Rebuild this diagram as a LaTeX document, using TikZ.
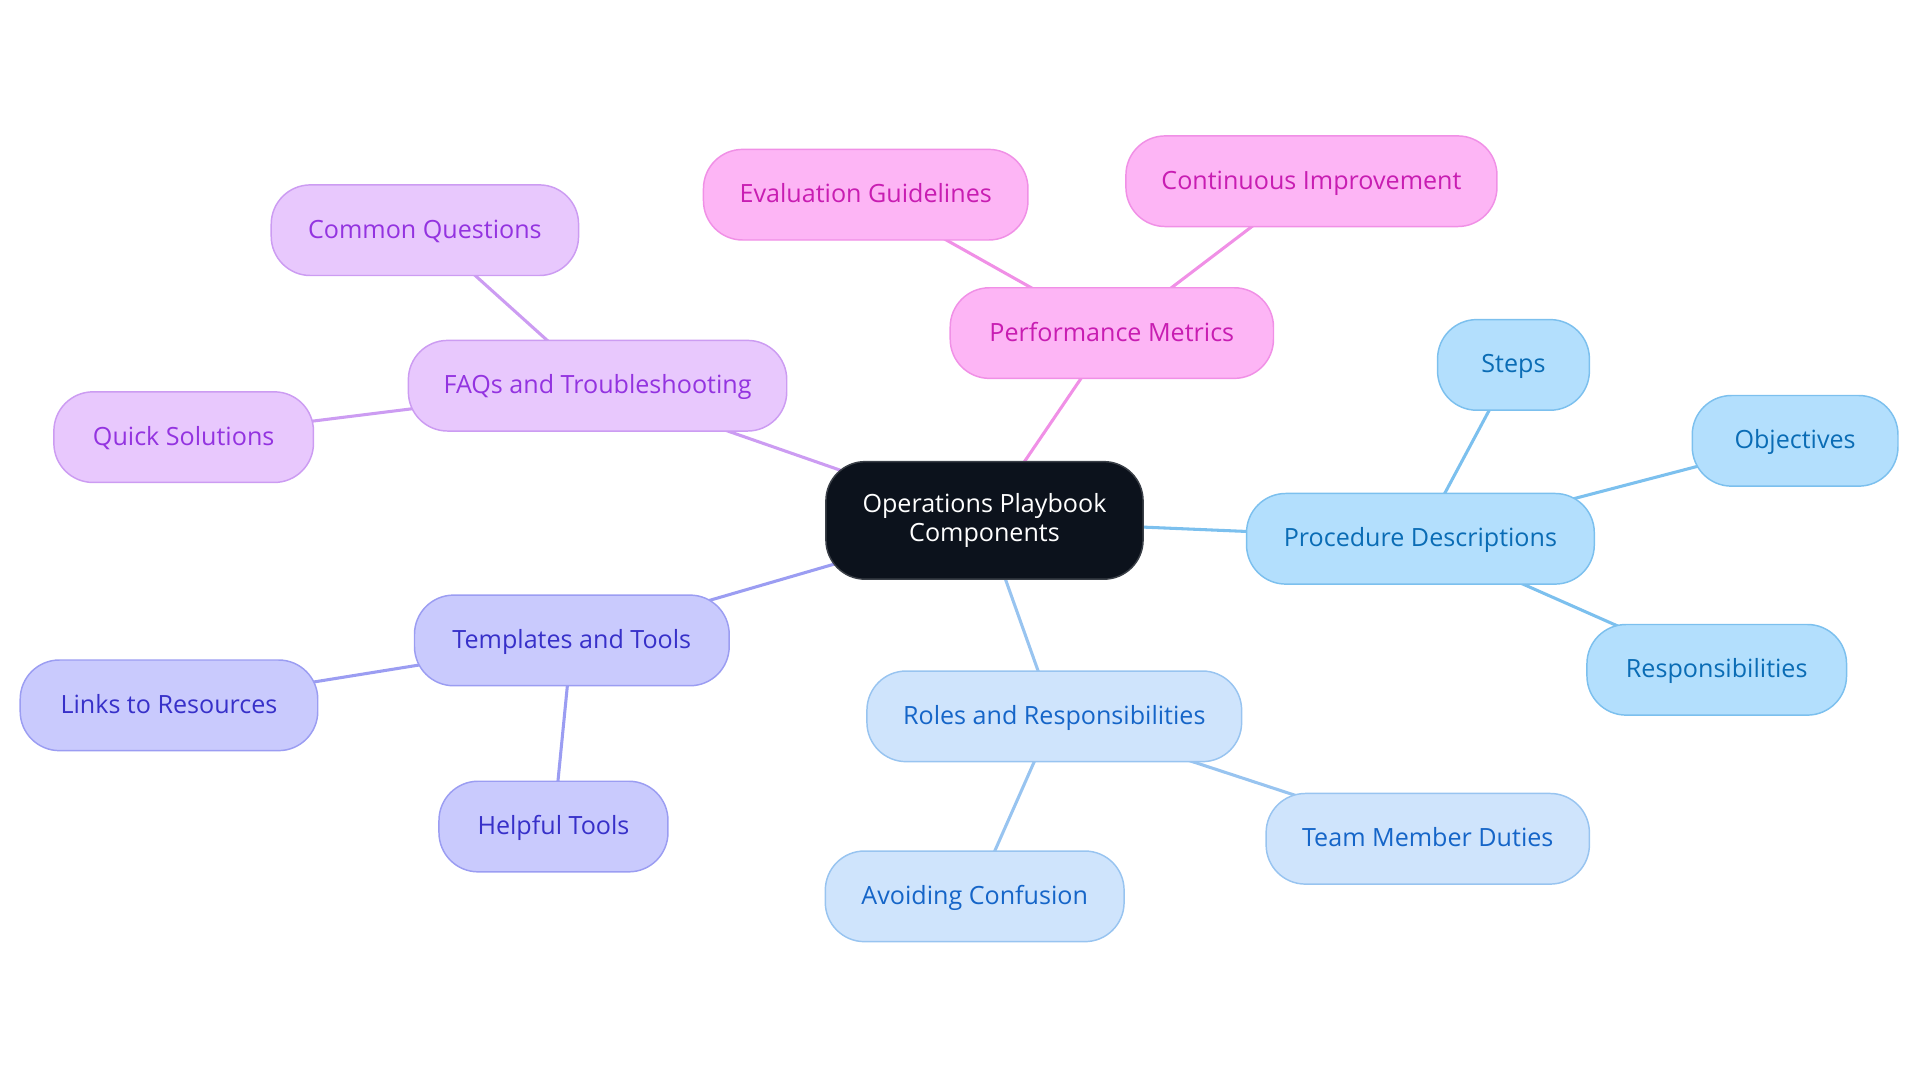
\documentclass[tikz,border=0pt]{standalone}
\usepackage{fontspec}
\setmainfont{Open Sans}
\usetikzlibrary{backgrounds}
\definecolor{pkF}{HTML}{FDB5F5}\definecolor{pkD}{HTML}{F090E6}\definecolor{pkT}{HTML}{C81DB2}
\definecolor{puF}{HTML}{E8C8FD}\definecolor{puD}{HTML}{CC9CF2}\definecolor{puT}{HTML}{9333E0}
\definecolor{inF}{HTML}{C9CAFD}\definecolor{inD}{HTML}{9B9DF2}\definecolor{inT}{HTML}{3730C9}
\definecolor{lbF}{HTML}{CFE4FC}\definecolor{lbD}{HTML}{98C4F0}\definecolor{lbT}{HTML}{1565C8}
\definecolor{bbF}{HTML}{B3DFFD}\definecolor{bbD}{HTML}{7CC0EE}\definecolor{bbT}{HTML}{0A6CB5}
\definecolor{ctF}{HTML}{0C121C}\definecolor{ctD}{HTML}{3A3F47}
\tikzset{
  x=1bp,y=-1bp,
  box/.style={rounded corners=32bp, minimum height=74bp, inner sep=0pt, line width=1.2bp, align=center,
    font=\fontsize{20.5bp}{23bp}\selectfont},
  leaf/.style={box, text height=16bp, text depth=3bp},
  pinkbox/.style={leaf, fill=pkF, draw=pkD, text=pkT},
  purplebox/.style={leaf, fill=puF, draw=puD, text=puT},
  indigobox/.style={leaf, fill=inF, draw=inD, text=inT},
  lightbox/.style={leaf, fill=lbF, draw=lbD, text=lbT},
  bluebox/.style={leaf, fill=bbF, draw=bbD, text=bbT},
  centerbox/.style={box, fill=ctF, draw=ctD, text=white, minimum height=96bp},
  link/.style={line width=2.5bp},
}
\begin{document}
\begin{tikzpicture}
\useasboundingbox (0,0) rectangle (1568,884);
\node[centerbox, minimum width=259bp] (c) at (804,425) {Operations Playbook\\Components};
% pink
\node[pinkbox, minimum width=264bp] (perf) at (908,272) {Performance Metrics};
\node[pinkbox, minimum width=265bp] (eval) at (707,159) {Evaluation Guidelines};
\node[pinkbox, minimum width=303bp] (cont) at (1071,148) {Continuous Improvement};
% purple
\node[purplebox, minimum width=309bp] (faq) at (488,315) {FAQs and Troubleshooting};
\node[purplebox, minimum width=251bp] (common) at (347,188) {Common Questions};
\node[purplebox, minimum width=212bp] (quick) at (150,357) {Quick Solutions};
% indigo
\node[indigobox, minimum width=257bp] (templ) at (467,523) {Templates and Tools};
\node[indigobox, minimum width=243bp] (links) at (138,576) {Links to Resources};
\node[indigobox, minimum width=187bp] (helpful) at (452,675) {Helpful Tools};
% light blue
\node[lightbox, minimum width=306bp] (roles) at (861,585) {Roles and Responsibilities};
\node[lightbox, minimum width=264bp] (team) at (1166,685) {Team Member Duties};
\node[lightbox, minimum width=244bp] (avoid) at (796,732) {Avoiding Confusion};
% blue
\node[bluebox, minimum width=284bp] (proc) at (1160,440) {Procedure Descriptions};
\node[bluebox, minimum width=124bp] (steps) at (1236,298) {Steps};
\node[bluebox, minimum width=168bp] (obj) at (1466,360) {Objectives};
\node[bluebox, minimum width=212bp] (resp) at (1402,547) {Responsibilities};
\begin{scope}[on background layer]
\draw[link, pkD] (c.center) -- (perf.center);
\draw[link, pkD] (perf.center) -- (eval.center);
\draw[link, pkD] (perf.center) -- (cont.center);
\draw[link, puD] (c.center) -- (faq.center);
\draw[link, puD] (faq.center) -- (common.center);
\draw[link, puD] (faq.center) -- (quick.center);
\draw[link, inD] (c.center) -- (templ.center);
\draw[link, inD] (templ.center) -- (links.center);
\draw[link, inD] (templ.center) -- (helpful.center);
\draw[link, lbD] (c.center) -- (roles.center);
\draw[link, lbD] (roles.center) -- (team.center);
\draw[link, lbD] (roles.center) -- (avoid.center);
\draw[link, bbD] (c.center) -- (proc.center);
\draw[link, bbD] (proc.center) -- (steps.center);
\draw[link, bbD] (proc.center) -- (obj.center);
\draw[link, bbD] (proc.center) -- (resp.center);
\end{scope}
\end{tikzpicture}
\end{document}
